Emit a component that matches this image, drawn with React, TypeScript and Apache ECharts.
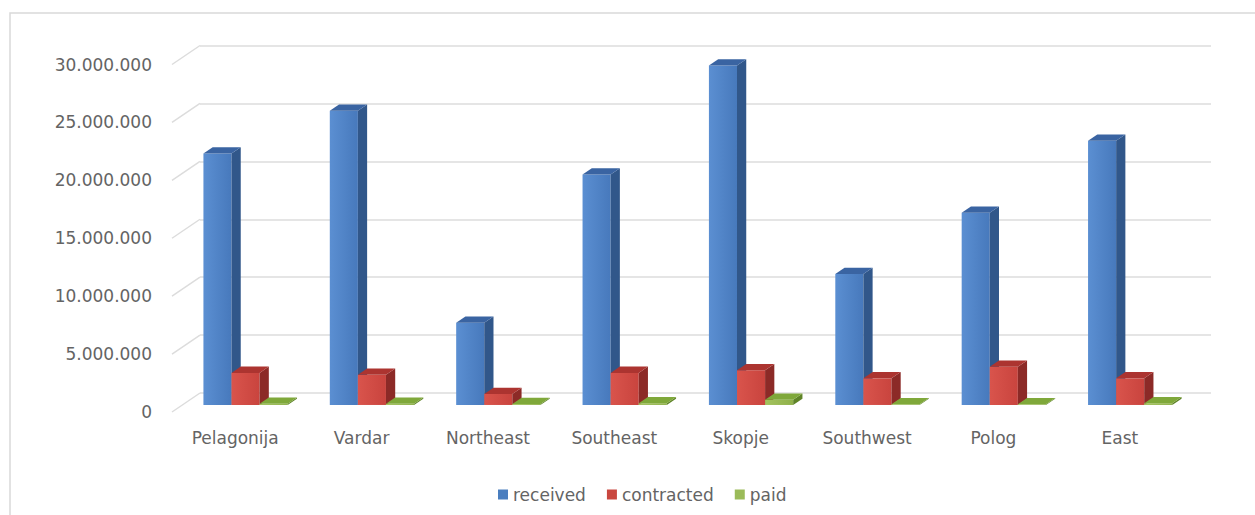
import React, { useEffect, useRef } from "react";
import * as echarts from "echarts";

const categories = ["Pelagonija", "Vardar", "Northeast", "Southeast", "Skopje", "Southwest", "Polog", "East"];
const received = [21700000, 25400000, 7100000, 19900000, 29300000, 11300000, 16600000, 22800000];
const contracted = [2770000, 2600000, 950000, 2770000, 3000000, 2300000, 3300000, 2300000];
const paid = [100000, 100000, 80000, 150000, 450000, 60000, 60000, 150000];
const seriesNames = ["received", "contracted", "paid"];
const yTicks = [0, 5000000, 10000000, 15000000, 20000000, 25000000, 30000000];

const DEPTH_X = 28;
const DEPTH_Y = -19;
const FRONT_F = 0.37;
const BAR_F = 0.33;

const palettes = [
  { front: ["#5b8fd2", "#4779bc"], side: "#31578a", top: "#3a64a2", legend: "#4a7ebf" },
  { front: ["#d9544c", "#c9443e"], side: "#8c2a27", top: "#ac3430", legend: "#c9473f" },
  { front: ["#a3c35e", "#8fb04a"], side: "#5f8428", top: "#7fa83a", legend: "#9bbb59" },
];

const fmt = (v: number) => String(v).replace(/\B(?=(\d{3})+(?!\d))/g, ".");

const FONT = "DejaVu Sans";
const TXT = "#646464";

function makeBarSeries(idx: number, values: number[]) {
  const pal = palettes[idx];
  return {
    type: "custom",
    name: seriesNames[idx],
    xAxisIndex: 0,
    yAxisIndex: 0,
    itemStyle: { color: pal.legend },
    encode: { x: 0, y: 1 },
    data: values.map((v, i) => [i, v]),
    renderItem: (params: any, api: any) => {
      const c = api.value(0);
      const v = api.value(1);
      const base = api.coord([c, 0]);
      const top = api.coord([c, v]);
      const band = api.size([1, 0])[0];
      const w = band / 4.5;
      const fx = FRONT_F * DEPTH_X;
      const fy = FRONT_F * DEPTH_Y;
      const dx = BAR_F * DEPTH_X;
      const dy = BAR_F * DEPTH_Y;
      const x0 = base[0] - 1.5 * w + idx * w + fx;
      const yb = base[1] + fy;
      const yt = top[1] + fy;
      return {
        type: "group",
        children: [
          {
            type: "rect",
            shape: { x: x0, y: yt, width: w, height: yb - yt },
            style: {
              fill: new echarts.graphic.LinearGradient(0, 0, 1, 0, [
                { offset: 0, color: pal.front[0] },
                { offset: 1, color: pal.front[1] },
              ]),
            },
          },
          {
            type: "polygon",
            shape: { points: [[x0 + w, yb], [x0 + w, yt], [x0 + w + dx, yt + dy], [x0 + w + dx, yb + dy]] },
            style: { fill: pal.side },
          },
          {
            type: "polygon",
            shape: { points: [[x0, yt], [x0 + w, yt], [x0 + w + dx, yt + dy], [x0 + dx, yt + dy]] },
            style: { fill: pal.top },
          },
        ],
      };
    },
  };
}

export default function App() {
  const ref = useRef<HTMLDivElement>(null);
  useEffect(() => {
    document.body.style.margin = "0";
    const chart = echarts.init(ref.current!, null, { renderer: "svg" });
    const gridFront = { left: 172, top: 64.5, width: 1011, height: 347.5 };
    const gridBack = { left: 172 + DEPTH_X, top: 64.5 + DEPTH_Y, width: 1011, height: 347.5 };
    const yBase = { type: "value", min: 0, max: 30000000, interval: 5000000 };
    chart.setOption({
      animation: false,
      textStyle: { fontFamily: FONT },
      graphic: [
        {
          type: "rect",
          shape: { x: 10, y: 13, width: 1260, height: 520 },
          style: { fill: "none", stroke: "#d9d9d9", lineWidth: 1.5 },
          silent: true,
        },
      ],
      grid: [gridFront, gridBack],
      xAxis: [
        {
          type: "category",
          gridIndex: 0,
          data: categories,
          axisLine: { show: false },
          axisTick: { show: false },
          axisLabel: { color: TXT, fontSize: 17, fontFamily: FONT, margin: 17 },
        },
        {
          type: "category",
          gridIndex: 1,
          data: categories,
          show: false,
        },
      ],
      yAxis: [
        {
          ...yBase,
          gridIndex: 0,
          axisLine: { show: false },
          axisTick: { show: false },
          splitLine: { show: false },
          axisLabel: { color: TXT, fontSize: 17, fontFamily: FONT, margin: 20, formatter: (v: number) => fmt(v) },
        },
        {
          ...yBase,
          gridIndex: 1,
          axisLine: { show: false },
          axisTick: { show: false },
          axisLabel: { show: false },
          splitLine: { show: true, lineStyle: { color: "#dcdcdc", width: 1.5 } },
        },
      ],
      legend: {
        data: seriesNames,
        left: 493,
        top: 481,
        icon: "rect",
        itemWidth: 10,
        itemHeight: 10,
        itemGap: 21,
        textStyle: { color: TXT, fontSize: 17, fontFamily: FONT },
      },
      series: [
        {
          type: "custom",
          name: "floor",
          xAxisIndex: 0,
          yAxisIndex: 0,
          silent: true,
          encode: { x: 0, y: 1 },
          data: yTicks.map((t) => [0, t]),
          renderItem: (params: any, api: any) => {
            const p = api.coord([0, api.value(1)]);
            const left = params.coordSys.x;
            return {
              type: "line",
              shape: { x1: left, y1: p[1], x2: left + DEPTH_X, y2: p[1] + DEPTH_Y },
              style: { stroke: "#dcdcdc", lineWidth: 1.5 },
            };
          },
        },
        makeBarSeries(0, received),
        makeBarSeries(1, contracted),
        makeBarSeries(2, paid),
      ],
    });
    return () => chart.dispose();
  }, []);
  return <div ref={ref} style={{ width: 1255, height: 515 }} />;
}
